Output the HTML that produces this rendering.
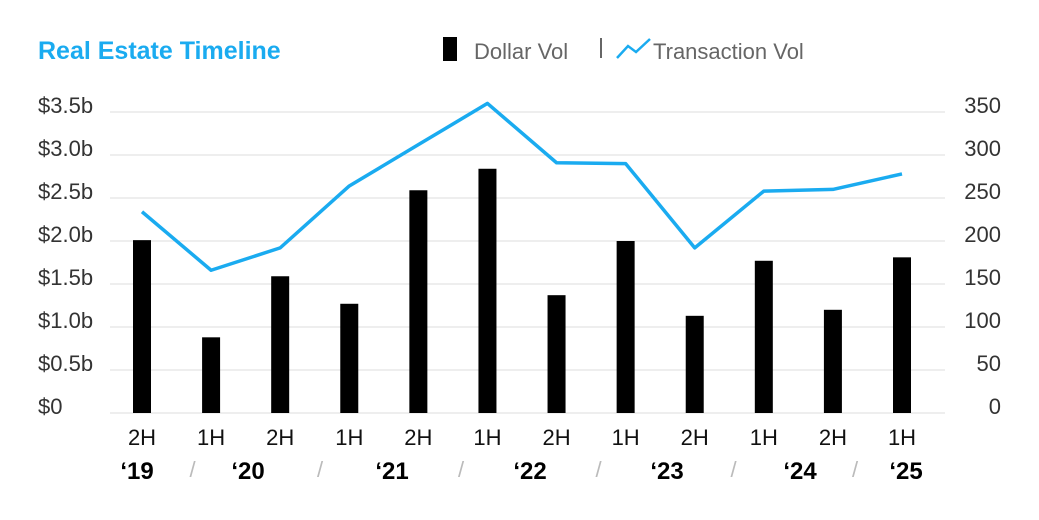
<!DOCTYPE html>
<html><head><meta charset="utf-8"><style>
body{margin:0;background:#fff;width:1039px;height:520px;overflow:hidden;font-family:"Liberation Sans",sans-serif}
svg{display:block}
</style></head><body>
<svg id="c" width="1039" height="520">
<text x="38" y="59" font-size="25" font-weight="bold" fill="#1AABF0">Real Estate Timeline</text>
<g>
<rect x="443" y="37" width="14" height="24" fill="#000"/>
<text x="474" y="59" font-size="22" fill="#666">Dollar Vol</text>
<line x1="601" y1="38" x2="601" y2="58" stroke="#666" stroke-width="2"/>
<polyline points="617,58 628,46 636,52 650,39" fill="none" stroke="#1AABF0" stroke-width="2.5"/>
<text x="653" y="59" font-size="22" fill="#666">Transaction Vol</text>
</g>
<g id="grid"></g><g id="bars"></g><g id="line"></g><g id="axes"></g>
</svg>
<script>
const categories=["2H","1H","2H","1H","2H","1H","2H","1H","2H","1H","2H","1H"];
const dollarVol=[2.01,0.88,1.59,1.27,2.59,2.84,1.37,2.0,1.13,1.77,1.20,1.81];
const transactionVol=[234,166,192,264,312,360,291,290,192,258,260,278];
const leftTicks=[0,0.5,1.0,1.5,2.0,2.5,3.0,3.5];
const leftLabels=["$0","$0.5b","$1.0b","$1.5b","$2.0b","$2.5b","$3.0b","$3.5b"];
const rightTicks=[0,50,100,150,200,250,300,350];
const years=["‘19","‘20","‘21","‘22","‘23","‘24","‘25"];
const yearX=[137,248,392,530,667,800,906];
const NS="http://www.w3.org/2000/svg";
const y0=413,yTop=112;
const yL=v=>y0-(v/3.5)*(y0-yTop);
const yR=v=>y0-(v/350)*(y0-yTop);
const x=i=>142+i*(902-142)/11;
function mk(t,a,p){const e=document.createElementNS(NS,t);for(const k in a)e.setAttribute(k,a[k]);p.appendChild(e);return e;}
const G=document.getElementById('grid'),B=document.getElementById('bars'),L=document.getElementById('line'),A=document.getElementById('axes');
leftTicks.forEach((v,i)=>{
 const l=mk('line',{x1:110,x2:945,y1:yL(v),y2:yL(v),stroke:'#ddd','stroke-width':1},G);
 
 
 const t=mk('text',{x:38,y:yL(v)+1,'font-size':22,fill:'#333'},A);t.textContent=leftLabels[i];
 
 
});
rightTicks.forEach(v=>{
 const t=mk('text',{x:1001,y:yR(v)+1,'font-size':22,fill:'#333','text-anchor':'end'},A);t.textContent=v;
 
 
});
dollarVol.forEach((v,i)=>{
 const r=mk('rect',{x:x(i)-9,y:yL(v),width:18,height:y0-yL(v),fill:'#000'},B);
 
 
});
categories.forEach((c,i)=>{
 const t=mk('text',{x:x(i),y:445,'font-size':22,fill:'#111','text-anchor':'middle'},A);t.textContent=c;
 
 
});
years.forEach((yv,i)=>{
 const t=mk('text',{x:yearX[i],y:479,'font-size':24,'font-weight':'bold',fill:'#000','text-anchor':'middle'},A);t.textContent=yv;
 
 
 if(i<years.length-1){const s=mk('text',{x:(yearX[i]+yearX[i+1])/2+(i==5?2:0),y:477,'font-size':22,fill:'#bbb','text-anchor':'middle'},A);s.textContent='/';
 
 }
});
const pl=mk('polyline',{points:transactionVol.map((v,i)=>x(i)+','+yR(v)).join(' '),fill:'none',stroke:'#1AABF0','stroke-width':3.5,'stroke-linejoin':'round'},L);


</script>
</body></html>
